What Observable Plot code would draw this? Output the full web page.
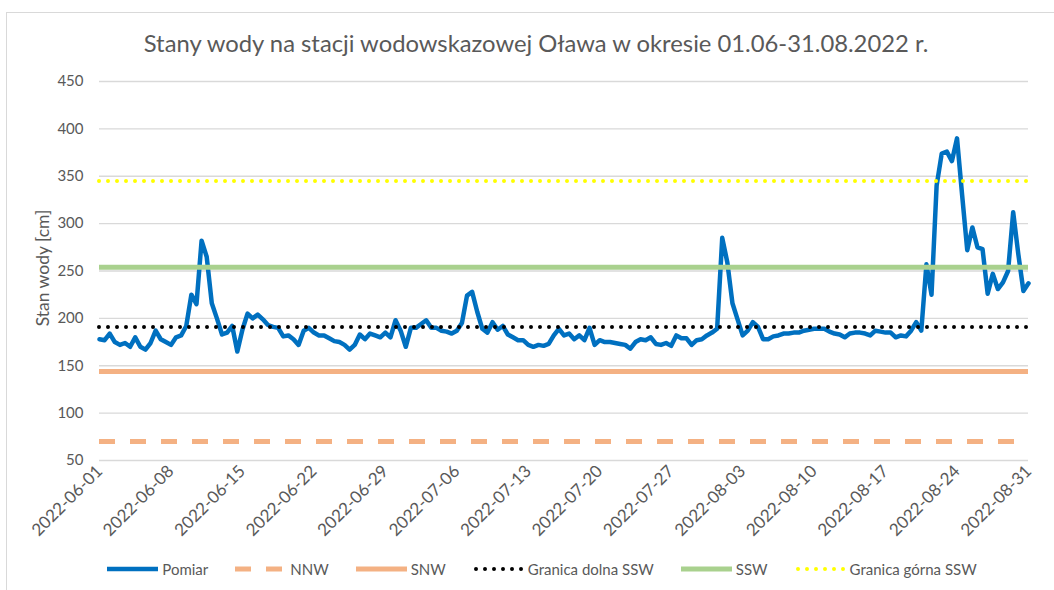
<!DOCTYPE html>
<html><head><meta charset="utf-8">
<script src="https://cdn.jsdelivr.net/npm/d3@7"></script>
<script src="https://cdn.jsdelivr.net/npm/@observablehq/plot@0.6"></script>
<style>
body{margin:0;background:#fff;}
#chart{position:relative;width:1054px;height:590px;overflow:hidden;font-family:Lato,sans-serif;color:#595959;background:#fff;}
#frame{position:absolute;left:6px;top:12px;width:1060px;height:600px;border:1px solid #D9D9D9;box-sizing:border-box;}
#title{position:absolute;left:0;top:29px;width:1072px;text-align:center;font-size:23.8px;line-height:28px;}
#plot{position:absolute;left:0;top:61px;}
#ylabel{position:absolute;left:43px;top:268px;transform:translate(-50%,-50%) rotate(-90deg);font-size:17.5px;white-space:nowrap;line-height:20px;}
#legend{position:absolute;left:0;width:1084px;top:559px;display:flex;justify-content:center;gap:27px;font-size:15px;line-height:20px;}
.item{display:flex;align-items:center;gap:4px;}
</style>
</head><body>
<div id="chart">
  <div id="frame"></div>
  <div id="title">Stany wody na stacji wodowskazowej Oława w okresie 01.06-31.08.2022 r.</div>
  <div id="plot"></div>
  <div id="ylabel">Stan wody [cm]</div>
  <div id="legend"></div>
</div>
<script>
// ---- data ----
const startDate = "2022-06-01T00:00:00Z";
const stepHours = 12;
// Pomiar: water level [cm], one reading every 12 h from 2022-06-01 00:00
const pomiar = [
178,177,184,175,172,174,170,180,170,167,174,187,178,175,172,180,182,192,225,215,
282,265,216,200,183,185,192,165,188,205,200,204,199,193,191,190,181,182,178,172,
187,190,185,182,182,179,176,175,172,167,172,183,178,184,182,180,185,180,198,187,
170,190,190,194,198,190,190,187,186,184,187,195,224,228,207,189,185,196,188,192,
183,180,177,177,172,170,172,171,173,182,189,182,184,178,182,177,190,172,177,175,
175,174,173,172,168,175,178,177,180,173,172,174,171,182,179,179,172,177,178,182,
185,189,285,259,216,199,182,187,196,191,178,178,181,182,184,184,185,185,187,188,
189,189,189,186,184,183,180,184,185,185,184,182,187,186,185,185,180,182,181,187,
196,187,257,225,340,374,376,366,390,330,272,296,275,273,226,247,231,238,250,312,
268,229,237
];
const refNames = ["NNW", "SNW", "Granica dolna SSW", "SSW", "Granica górna SSW"];
const refValues = [70, 144, 191, 254, 345];
const seriesNames = ["Pomiar", ...refNames];
const yTicks = [50, 100, 150, 200, 250, 300, 350, 400, 450];
const tickLabels = ["2022-06-01","2022-06-08","2022-06-15","2022-06-22","2022-06-29","2022-07-06","2022-07-13","2022-07-20","2022-07-27","2022-08-03","2022-08-10","2022-08-17","2022-08-24","2022-08-31"];

// ---- styles ----
const styles = {
  "Pomiar": {stroke: "#0070C0", strokeWidth: 4.5},
  "NNW": {stroke: "#F4B183", strokeWidth: 5, strokeDasharray: "16 15"},
  "SNW": {stroke: "#F4B183", strokeWidth: 5},
  "Granica dolna SSW": {stroke: "#000000", strokeWidth: 4, strokeDasharray: "0 9", strokeLinecap: "round"},
  "SSW": {stroke: "#A9D18E", strokeWidth: 5},
  "Granica górna SSW": {stroke: "#FFFF00", strokeWidth: 4, strokeDasharray: "0 9", strokeLinecap: "round"}
};

const t0 = Date.parse(startDate);
const data = pomiar.map((v, i) => ({t: new Date(t0 + i * stepHours * 3600e3), v}));
const refs = refNames.map((n, i) => ({name: n, value: refValues[i]}));
const tickDates = tickLabels.map(s => new Date(s + "T00:00:00Z"));

const plot = Plot.plot({
  width: 1054,
  height: 499,
  marginLeft: 99,
  marginRight: 26,
  marginTop: 20,
  marginBottom: 100,
  style: {fontFamily: "Lato, sans-serif", fontSize: "15px", color: "#595959", background: "transparent", overflow: "visible"},
  x: {type: "utc", domain: [tickDates[0], tickDates[tickDates.length - 1]]},
  y: {domain: [50, 450]},
  marks: [
    Plot.gridY(yTicks, {stroke: "#D9D9D9", strokeOpacity: 1, strokeWidth: 1.3}),
    Plot.axisY(yTicks, {tickSize: 0, tickPadding: 16, fontSize: 15, label: null}),
    Plot.axisX(tickDates, {tickSize: 0, tickPadding: 8, tickRotate: -45, fontSize: 17, tickFormat: d3.utcFormat("%Y-%m-%d"), label: null}),
    Plot.line(data, {x: "t", y: "v", ...styles["Pomiar"], strokeLinejoin: "round", strokeLinecap: "round"}),
    ...refs.map(r => Plot.ruleY([r.value], {...styles[r.name]}))
  ]
});
document.getElementById("plot").appendChild(plot);

// ---- legend ----
const legend = document.getElementById("legend");
for (const name of seriesNames) {
  const s = styles[name];
  const item = document.createElement("div");
  item.className = "item";
  const ns = "http://www.w3.org/2000/svg";
  const svg = document.createElementNS(ns, "svg");
  svg.setAttribute("width", 51); svg.setAttribute("height", 10);
  const ln = document.createElementNS(ns, "line");
  ln.setAttribute("x1", s.strokeLinecap === "round" ? 3 : 0);
  ln.setAttribute("x2", 51); ln.setAttribute("y1", 5); ln.setAttribute("y2", 5);
  ln.setAttribute("stroke", s.stroke);
  ln.setAttribute("stroke-width", s.strokeWidth);
  if (s.strokeDasharray) ln.setAttribute("stroke-dasharray", s.strokeDasharray);
  if (s.strokeLinecap) ln.setAttribute("stroke-linecap", s.strokeLinecap);
  svg.appendChild(ln);
  const txt = document.createElement("span");
  txt.textContent = name;
  item.appendChild(svg); item.appendChild(txt);
  legend.appendChild(item);
}
</script>
</body></html>
